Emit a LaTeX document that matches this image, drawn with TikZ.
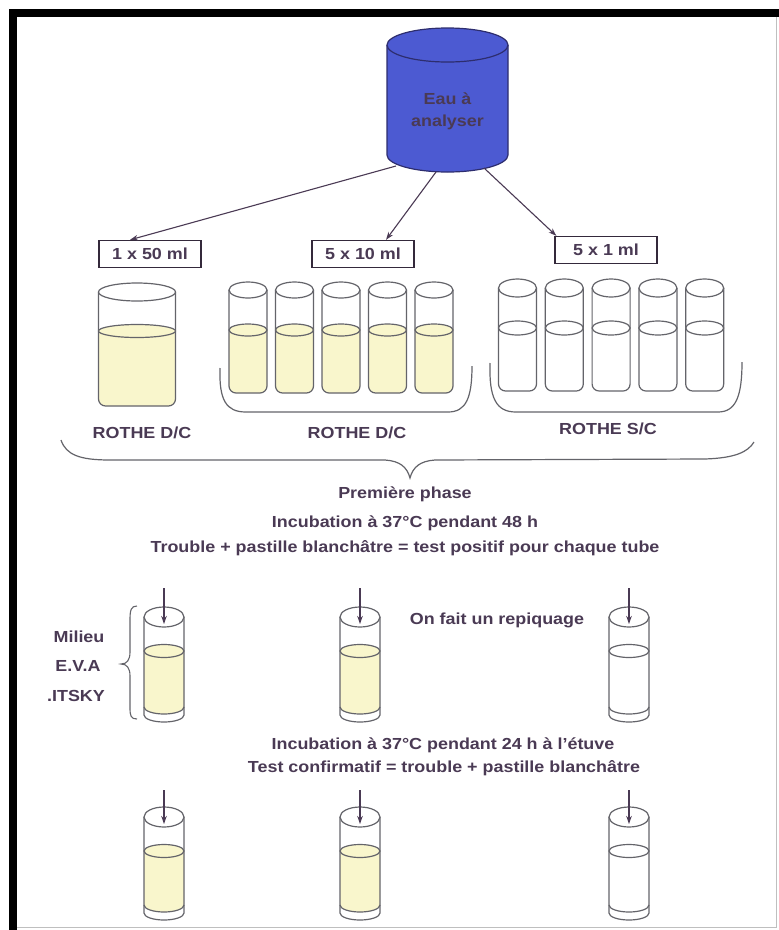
\documentclass[tikz,border=0pt]{standalone}
\usepackage{fontspec}
\setmainfont[FakeStretch=1.12]{Liberation Sans}
\usetikzlibrary{arrows.meta}

\definecolor{eaublue}{RGB}{76,90,210}
\definecolor{eauedge}{RGB}{45,45,110}
\definecolor{txt}{RGB}{74,58,84}
\definecolor{tubegray}{RGB}{100,100,106}
\definecolor{liq}{RGB}{249,246,204}

\tikzset{
  lbl/.style={font=\bfseries\fontsize{16}{19}\selectfont, text=txt, inner sep=1pt},
  volbox/.style={lbl, draw=txt!70!black, line width=1.3pt, minimum width=102pt, minimum height=27pt},
  paroi/.style={draw=tubegray, line width=1.2pt},
  fleche/.style={draw=txt, line width=1.1pt, -{Stealth[length=8pt,width=5.5pt]}},
}

% \flacon{cx}{rx}{top}{ry top}{liquid}{ry liquid}{bottom}{fill}
\newcommand{\flacon}[8]{%
  \fill[#8, rounded corners=7pt] (#1-#2,#5) -- (#1-#2,#7) -- (#1+#2,#7) -- (#1+#2,#5);
  \draw[paroi, rounded corners=7pt] (#1-#2,#3) -- (#1-#2,#7) -- (#1+#2,#7) -- (#1+#2,#3);
  \draw[paroi, fill=white] (#1,#3) ellipse[x radius=#2pt, y radius=#4pt];
  \draw[paroi, fill=#8] (#1,#5) ellipse[x radius=#2pt, y radius=#6pt];
}

% \tube{cx}{top}{liquid}{bottom}{fill}
\newcommand{\tube}[5]{%
  \fill[#5] (#1-20,#3) -- (#1-20,#4-15) arc[start angle=180, end angle=360, x radius=20pt, y radius=7pt] -- (#1+20,#3) -- cycle;
  \draw[paroi] (#1-20,#2) -- (#1-20,#4-7) arc[start angle=180, end angle=360, x radius=20pt, y radius=7pt] -- (#1+20,#2);
  \draw[paroi] (#1-20,#4-15) arc[start angle=180, end angle=360, x radius=20pt, y radius=7pt];
  \draw[paroi, fill=white] (#1,#2) ellipse[x radius=20pt, y radius=10pt];
  \draw[paroi, fill=#5] (#1,#3) ellipse[x radius=20pt, y radius=6.5pt];
}

\begin{document}
\begin{tikzpicture}[x=1pt, y=-1pt]
  \useasboundingbox (0,0) rectangle (779,930);
  \fill[white] (0,0) rectangle (779,930);

  % cadre
  \fill[black] (9,9) rectangle (779,17);
  \fill[black] (9,9) rectangle (17,930);
  \draw[black!25, line width=1pt] (776,17) -- (776,927) -- (17,927);

  % cuve d'eau
  \fill[eaublue] (387,45) -- (387,155) arc[start angle=180, end angle=360, x radius=60.5pt, y radius=17pt] -- (508,45) -- cycle;
  \draw[eauedge, line width=1.2pt] (387,45) -- (387,155) arc[start angle=180, end angle=360, x radius=60.5pt, y radius=17pt] -- (508,45);
  \draw[eauedge, line width=1.2pt, fill=eaublue] (447.5,45) ellipse[x radius=60.5pt, y radius=17pt];
  \node[lbl, align=center, font=\bfseries\fontsize{16}{22}\selectfont] (eau) at (447.5,111) {Eau à\\analyser};
  \coordinate (eauG) at (396,166);
  \coordinate (eauM) at (436,172);
  \coordinate (eauD) at (484,168);

  % volumes
  \node[volbox] (v50) at (150,254) {1 x 50 ml};
  \node[volbox] (v10) at (363,254) {5 x 10 ml};
  \node[volbox] (v1) at (606,250) {5 x 1 ml};
  \draw[fleche] (eauG) -- ([xshift=-20pt]v50.north);
  \draw[fleche] (eauM) -- ([xshift=23pt]v10.north);
  \draw[fleche] (eauD) -- ([xshift=2pt]v1.north west);

  % flacon et tubes
  \flacon{137}{38.5}{292}{9}{331}{6.5}{406}{liq}
  \foreach \x in {248,294.5,341,387.5,434}{
    \flacon{\x}{19}{290}{8}{330}{6}{393}{liq}
  }
  \foreach \x in {517.5,564.3,611.1,657.9,704.7}{
    \flacon{\x}{19}{288}{9}{328}{7}{391}{white}
  }

  \draw[tubegray, line width=1.2pt] (220,368) .. controls (219,400) and (226,412) .. (246,412) -- (448,412) .. controls (466,412) and (472,398) .. (472,366);
  \draw[tubegray, line width=1.2pt] (490,363) .. controls (489,398) and (496,412) .. (516,412) -- (718,412) .. controls (736,412) and (742,396) .. (742,362);

  \node[lbl] (rothe1) at (142,433) {ROTHE D/C};
  \node[lbl] (rothe2) at (357,433) {ROTHE D/C};
  \node[lbl] (rothe3) at (608,429) {ROTHE S/C};

  % grande accolade
  \draw[tubegray, line width=1.2pt] (61,440) .. controls (66,455) and (80,460) .. (110,460) -- (385,460) .. controls (400,461) and (407,467) .. (410,478) .. controls (413,467) and (420,461) .. (435,460) -- (705,459) .. controls (735,458) and (748,452) .. (754,442);

  \node[lbl] (phase) at (405,494) {Première phase};
  \node[lbl] (incub1) at (405,523) {Incubation à 37°C pendant 48 h};
  \node[lbl] (trouble) at (405,548) {Trouble + pastille blanchâtre = test positif pour chaque tube};

  % repiquage
  \node[lbl] (milieu) at (79,637) {Milieu};
  \node[lbl] (eva) at (78,666) {E.V.A};
  \node[lbl] (litsky) at (76,696) {.ITSKY};
  \draw[tubegray, line width=1.1pt] (137,606) .. controls (131,606) and (130,610) .. (130,620) -- (130,652) .. controls (130,660) and (127,664) .. (121,664) .. controls (127,664) and (130,668) .. (130,676) -- (130,708) .. controls (130,716) and (131,719) .. (137,719);
  \node[lbl] (repiq) at (497,620) {On fait un repiquage};

  \foreach \x/\c [count=\i] in {164/liq, 360/liq, 629/white} {
    \tube{\x}{617}{651}{722}{\c}
    \coordinate (haut\i) at (\x,588);
    \coordinate (bout\i) at (\x,624);
    \draw[fleche] (haut\i) -- (bout\i);
  }

  \node[lbl] (incub2) at (443,745) {Incubation à 37°C pendant 24 h à l'étuve};
  \node[lbl] (confirm) at (444,768) {Test confirmatif = trouble + pastille blanchâtre};

  % test confirmatif
  \foreach \x/\c [count=\i] in {164/liq, 360/liq, 629/white} {
    \tube{\x}{817}{851}{920}{\c}
    \coordinate (hautB\i) at (\x,790);
    \coordinate (boutB\i) at (\x,824);
    \draw[fleche] (hautB\i) -- (boutB\i);
  }
\end{tikzpicture}
\end{document}
